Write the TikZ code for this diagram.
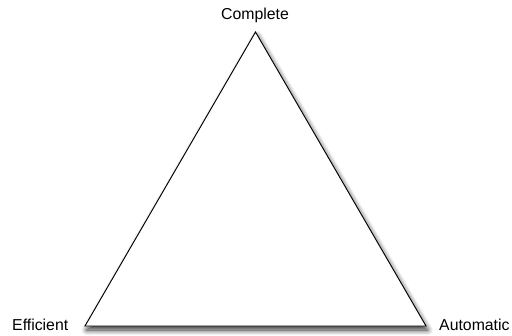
\documentclass[tikz,border=0pt]{standalone}
\usepackage{fontspec}
\setmainfont{Liberation Sans}
\usepackage{tikz}
\usetikzlibrary{shadows.blur}
\tikzset{
  cornerlbl/.style={inner sep=0pt,font=\fontsize{13.5}{16}\selectfont},
  triface/.style={draw=black,line width=0.8pt,fill=white,line join=miter,
    blur shadow={shadow xshift=0.5mm,shadow yshift=-1.2mm,shadow blur radius=1.6mm,shadow blur steps=8,shadow opacity=80}},
}

\begin{document}
\begin{tikzpicture}[x=0.03cm,y=-0.03cm]
  \useasboundingbox (0,0) rectangle (512,335);
  \coordinate (vTop) at (255.5,32);
  \coordinate (vLeft) at (85,326);
  \coordinate (vRight) at (426,326);
  \node[cornerlbl,anchor=base] (lComplete) at (255,19) {Complete};
  \node[cornerlbl,anchor=base west] (lEfficient) at (12,330) {Efficient};
  \node[cornerlbl,anchor=base west] (lAutomatic) at (439,330) {Automatic};
  \path[triface] (vTop) -- (vRight) -- (vLeft) -- cycle;
\end{tikzpicture}
\end{document}
